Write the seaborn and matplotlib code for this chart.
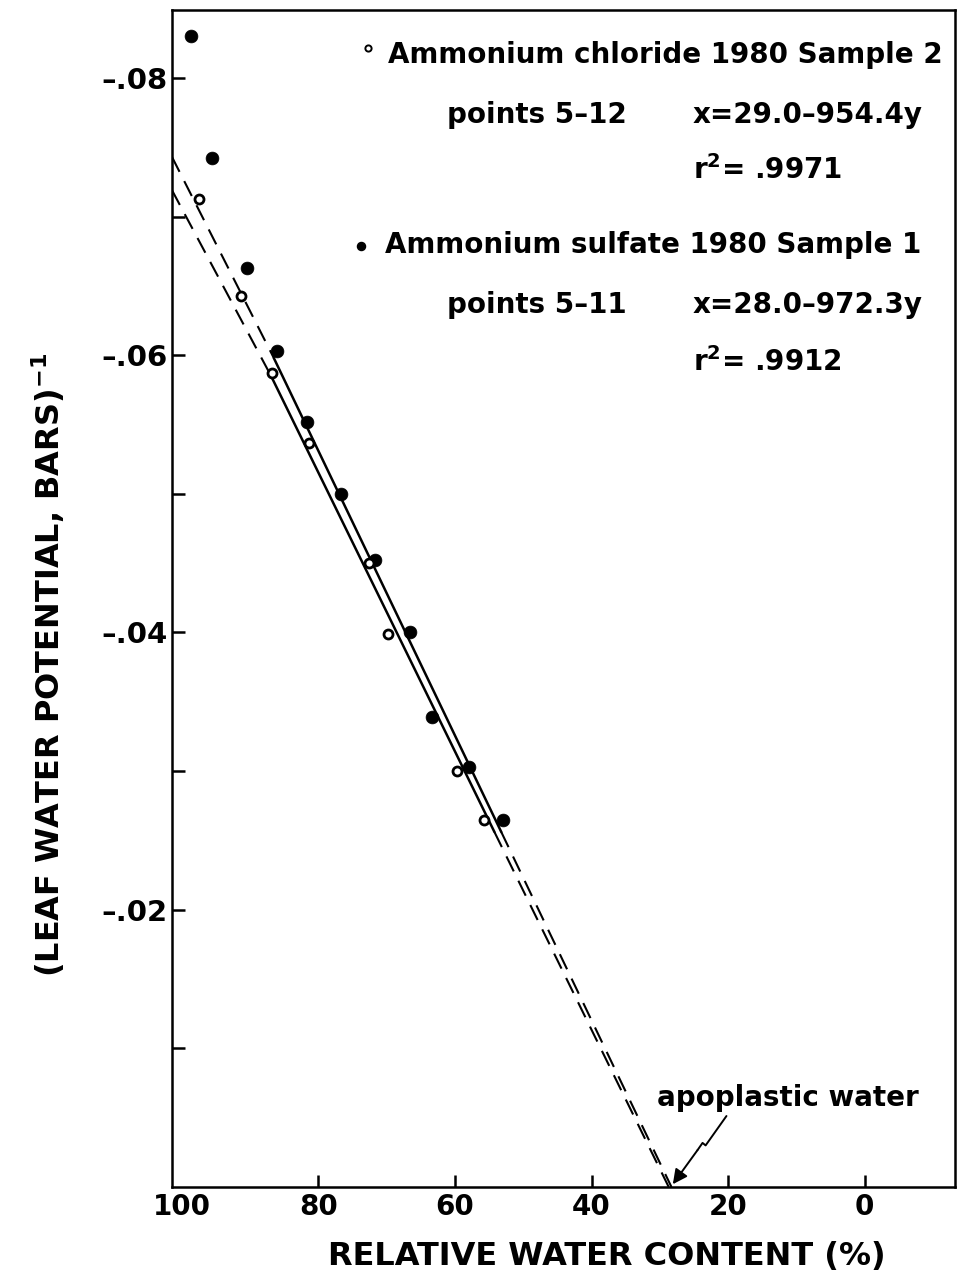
import matplotlib
matplotlib.use("Agg")
import matplotlib.pyplot as plt
import seaborn as sns
import numpy as np

# ---------------- data ----------------
rwc_chloride = [97.4, 91.3, 86.7, 81.4, 72.6, 69.8, 59.7, 55.8]
inv_psi_chloride = [-0.0713, -0.0643, -0.0587, -0.0537, -0.0450, -0.0399, -0.0300, -0.0265]

rwc_sulfate = [98.6, 95.5, 90.4, 86.0, 81.7, 76.6, 71.7, 66.5, 63.4, 58.0, 52.9]
inv_psi_sulfate = [-0.0830, -0.0742, -0.0663, -0.0603, -0.0552, -0.0500, -0.0452,
                   -0.0400, -0.0339, -0.0303, -0.0265]

# regression lines as drawn (extrapolated part dashed, fitted part solid)
line_sulfate_x = [101.4, 86.5, 53.2, 28.3]
line_sulfate_y = [-0.0743, -0.0598, -0.0256, 0.0]
line_chloride_x = [101.4, 86.9, 54.2, 28.7]
line_chloride_y = [-0.0719, -0.0585, -0.0256, 0.0]

x_ticks = [100, 80, 60, 40, 20, 0]
x_ticklabels = ["100", "80", "60", "40", "20", "0"]
y_ticks = [-0.08, -0.06, -0.04, -0.02]
y_ticklabels = ["\u2013.08", "\u2013.06", "\u2013.04", "\u2013.02"]
y_minor = [-0.07, -0.05, -0.03, -0.01]

# annotation arrow path (data coordinates)
arrow_x = [20.25, 23.3, 23.75, 24.5]
arrow_y = [-0.00512, -0.00300, -0.00318, -0.00265]
arrow_tip = (28.1, -0.0002)

# ---------------- style ----------------
sns.set_theme(style="white")
plt.rcParams["font.family"] = ["DejaVu Sans"]
plt.rcParams["font.weight"] = "bold"
plt.rcParams["mathtext.fontset"] = "dejavusans"
plt.rcParams["mathtext.default"] = "bf"
plt.rcParams["text.color"] = "black"
plt.rcParams["xtick.color"] = "black"
plt.rcParams["ytick.color"] = "black"
plt.rcParams["xtick.labelcolor"] = "black"
plt.rcParams["ytick.labelcolor"] = "black"

W, H = 961, 1286
fig = plt.figure(figsize=(W / 100, H / 100), dpi=100)
fig.patch.set_facecolor("white")
L, R, T, B = 172, 955, 10, 1187
ax = fig.add_axes([L / W, (H - B) / H, (R - L) / W, (B - T) / H])
ax.set_facecolor("white")

# lines
def seg(xs, ys, i0, i1, dashed):
    sns.lineplot(x=xs[i0:i1 + 1], y=ys[i0:i1 + 1], ax=ax, sort=False, estimator=None,
                 color="black", lw=1.8 if not dashed else 1.5,
                 linestyle=(0, (8, 5)) if dashed else "-")

for xs, ys in [(line_sulfate_x, line_sulfate_y), (line_chloride_x, line_chloride_y)]:
    seg(xs, ys, 0, 1, True)
    seg(xs, ys, 1, 2, False)
    seg(xs, ys, 2, 3, True)

# points
sns.scatterplot(x=rwc_sulfate, y=inv_psi_sulfate, ax=ax, s=85, color="black",
                edgecolor="black", linewidth=0.5, zorder=5)
sns.scatterplot(x=rwc_chloride, y=inv_psi_chloride, ax=ax, s=42, facecolor="white",
                edgecolor="black", linewidth=2.0, zorder=6)

ax.set_xlim(101.4, -13.2)
ax.set_ylim(0, -0.0849)

ax.set_xticks(x_ticks)
ax.set_xticklabels(x_ticklabels, fontsize=20, fontweight="bold", color="black")
ax.set_yticks(y_ticks)
ax.set_yticklabels(y_ticklabels, fontsize=21, fontweight="bold", color="black")
ax.set_yticks(y_minor, minor=True)
ax.tick_params(axis="both", which="both", direction="in", length=9, width=1.8,
               color="black", bottom=True, left=True, top=False, right=False)
ax.tick_params(axis="x", pad=4)
ax.tick_params(axis="y", pad=3)
ax.xaxis.get_major_ticks()[0].tick1line.set_visible(False)
for s in ax.spines.values():
    s.set_visible(True)
    s.set_color("black")
    s.set_linewidth(1.8)
ax.set_xlabel("")
ax.set_ylabel("")

def px(x, y):
    return x / W, 1 - y / H

# axis labels
fig.text(*px(607, 1257), "RELATIVE WATER CONTENT (%)", fontsize=23, fontweight="bold",
         ha="center", va="center", color="black")
fig.text(*px(48, 665), r"(LEAF WATER POTENTIAL, BARS)$^{\mathbf{-1}}$", fontsize=23,
         fontweight="bold", rotation=90, ha="center", va="center", color="black")

# legend-like text block
fs = 20
kw = dict(fontsize=fs, va="center", ha="left", color="black")
fig.text(*px(388, 55), "Ammonium chloride 1980 Sample 2", **kw)
fig.text(*px(447, 115), "points 5\u201312", **kw)
fig.text(*px(693, 115), "x=29.0\u2013954.4y", **kw)
fig.text(*px(693, 170), r"r$^{\mathbf{2}}$= .9971", **kw)
fig.text(*px(385, 245), "Ammonium sulfate 1980 Sample 1", **kw)
fig.text(*px(447, 305), "points 5\u201311", **kw)
fig.text(*px(693, 305), "x=28.0\u2013972.3y", **kw)
fig.text(*px(693, 362), r"r$^{\mathbf{2}}$= .9912", **kw)
ax.scatter([368 / W], [1 - 48 / H], transform=fig.transFigure, s=20, facecolor="white",
           edgecolor="black", linewidth=1.4, clip_on=False, zorder=7)
ax.scatter([361 / W], [1 - 246 / H], transform=fig.transFigure, s=34, color="black",
           clip_on=False, zorder=7)

# annotation
fig.text(*px(657, 1098), "apoplastic water", **kw)
ax.plot(arrow_x, arrow_y, color="black", lw=1.4)
ax.annotate("", xy=arrow_tip, xytext=(arrow_x[-1], arrow_y[-1]),
            arrowprops=dict(arrowstyle="-|>", color="black", lw=1.4, mutation_scale=22,
                            shrinkA=0, shrinkB=0))

fig.savefig("out.png", dpi=100)
